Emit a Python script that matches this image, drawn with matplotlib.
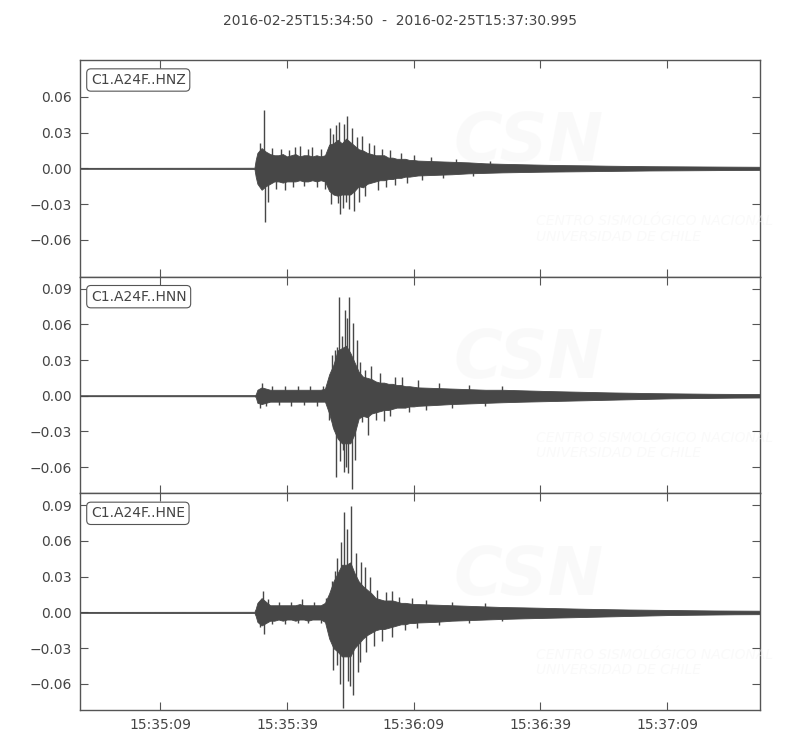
import matplotlib
matplotlib.use("Agg")
import matplotlib.pyplot as plt
from matplotlib.ticker import FuncFormatter, FixedLocator

# start time 2016-02-25T15:34:50, x in seconds from start
start_h, start_m, start_s = 15, 34, 50
t_end = 160.995
title = "2016-02-25T15:34:50  -  2016-02-25T15:37:30.995"
channels = ["C1.A24F..HNZ", "C1.A24F..HNN", "C1.A24F..HNE"]
x_ticks = [19, 49, 79, 109, 139]

# envelope sample times (s)
t_env = [0, 41.3, 41.6, 42, 43, 44, 45, 46, 47, 48, 49, 50, 51, 52, 53, 54, 55, 56, 57,
         58, 59, 60, 61, 62, 63, 64, 65, 66, 67, 68, 69, 70, 71, 72, 73, 74, 75, 76, 77,
         78, 79, 80, 84, 88, 92, 96, 100, 105, 110, 115, 120, 125, 130, 135, 140, 145,
         150, 155, 161]

# HNZ envelope (core of the trace)
hnz_hi = [0.0004, 0.0005, 0.007, 0.013, 0.017, 0.014, 0.012, 0.011, 0.011, 0.012, 0.010,
          0.011, 0.012, 0.010, 0.011, 0.011, 0.010, 0.011, 0.010, 0.011, 0.020, 0.021,
          0.024, 0.021, 0.025, 0.022, 0.019, 0.016, 0.015, 0.013, 0.012, 0.011, 0.011,
          0.011, 0.009, 0.009, 0.008, 0.008, 0.008, 0.007, 0.007, 0.0065, 0.006, 0.0055,
          0.005, 0.0042, 0.0038, 0.0034, 0.003, 0.0027, 0.0025, 0.0022, 0.002, 0.0018,
          0.0017, 0.0016, 0.0015, 0.0014, 0.0013]
hnz_lo = [-0.0004, -0.0005, -0.007, -0.013, -0.018, -0.015, -0.013, -0.011, -0.011,
          -0.012, -0.011, -0.011, -0.011, -0.010, -0.011, -0.011, -0.010, -0.011, -0.010,
          -0.011, -0.019, -0.022, -0.023, -0.022, -0.022, -0.022, -0.019, -0.015, -0.016,
          -0.013, -0.012, -0.011, -0.010, -0.010, -0.009, -0.009, -0.008, -0.008, -0.007,
          -0.007, -0.0065, -0.006, -0.0055, -0.005, -0.0042, -0.0038, -0.0034, -0.0031,
          -0.0028, -0.0026, -0.0024, -0.0022, -0.002, -0.0018, -0.0017, -0.0016, -0.0015,
          -0.0014, -0.0013]
hnz_spike_t = [42.5, 43.6, 43.8, 44.5, 45.5, 46.5, 47.5, 48.5, 49.5, 50.5, 51.0, 52.0,
               53.0, 54.0, 55.0, 56.0, 57.0, 58.0, 59.2, 59.4, 60.0, 60.5, 61.0, 61.3,
               61.5, 62.2, 62.4, 63.0, 63.3, 63.6, 64.3, 64.9, 65.5, 66.0, 66.7, 67.5,
               68.5, 69.5, 70.5, 71.5, 72.5, 73.5, 74.5, 76.0, 77.5, 79.0, 81.0, 83.0,
               86.0, 89.0, 93.0, 97.0]
hnz_spike_a = [0.021, 0.049, -0.045, -0.028, 0.017, -0.017, 0.016, -0.018, 0.015, -0.016,
               0.018, 0.019, -0.015, 0.016, 0.018, -0.016, 0.016, -0.017, 0.034, -0.030,
               0.029, 0.036, -0.029, 0.039, -0.038, -0.033, 0.037, -0.028, 0.044, -0.034,
               0.034, -0.036, 0.026, -0.028, 0.027, -0.023, 0.021, 0.020, -0.018, 0.016,
               -0.016, 0.015, -0.014, 0.013, -0.012, 0.011, -0.010, 0.0095, -0.008, 0.0075,
               -0.0065, 0.006]

# HNN envelope
hnn_hi = [0.0004, 0.0005, 0.001, 0.005, 0.007, 0.006, 0.005, 0.005, 0.005, 0.005, 0.005,
          0.005, 0.005, 0.005, 0.005, 0.005, 0.005, 0.005, 0.005, 0.006, 0.018, 0.026,
          0.038, 0.040, 0.042, 0.036, 0.028, 0.020, 0.016, 0.015, 0.014, 0.012, 0.011,
          0.011, 0.010, 0.010, 0.009, 0.009, 0.008, 0.008, 0.0075, 0.007, 0.0065, 0.006,
          0.0055, 0.005, 0.005, 0.0045, 0.004, 0.0036, 0.0032, 0.0028, 0.0025, 0.0022,
          0.002, 0.0018, 0.0016, 0.0015, 0.0014]
hnn_lo = [-0.0004, -0.0005, -0.001, -0.006, -0.007, -0.006, -0.005, -0.005, -0.005,
          -0.005, -0.005, -0.005, -0.005, -0.005, -0.005, -0.005, -0.005, -0.005, -0.005,
          -0.005, -0.015, -0.028, -0.036, -0.040, -0.040, -0.040, -0.032, -0.019, -0.017,
          -0.018, -0.015, -0.014, -0.013, -0.012, -0.012, -0.011, -0.010, -0.010, -0.010,
          -0.009, -0.009, -0.0085, -0.0078, -0.007, -0.0065, -0.006, -0.0055, -0.005,
          -0.0046, -0.0042, -0.0038, -0.0034, -0.003, -0.0026, -0.0022, -0.002, -0.0018,
          -0.0016, -0.0015]
hnn_spike_t = [42.6, 43.0, 44.0, 45.5, 47.0, 48.5, 50.0, 51.5, 53.0, 54.5, 56.0, 57.5,
               59.0, 59.6, 60.0, 60.3, 60.6, 60.8, 61.3, 61.5, 62.0, 62.2, 62.5, 62.7,
               63.0, 63.3, 63.5, 63.8, 64.3, 64.7, 65.1, 65.5, 66.3, 66.8, 67.5, 68.3,
               69.0, 70.0, 71.0, 72.0, 73.4, 74.6, 76.2, 78.0, 80.0, 82.0, 85.0, 88.0,
               92.0, 96.0, 100.0]
hnn_spike_a = [-0.010, 0.011, -0.009, 0.008, -0.008, 0.008, -0.009, 0.008, -0.008, 0.008,
               -0.009, 0.008, -0.020, 0.034, -0.026, 0.038, -0.068, 0.041, 0.083, -0.055,
               0.050, -0.046, -0.064, 0.072, -0.060, 0.065, -0.065, 0.083, -0.078, 0.061,
               -0.054, 0.047, 0.028, -0.022, 0.022, -0.033, 0.025, -0.020, 0.019, -0.021,
               -0.017, 0.016, 0.016, -0.014, 0.013, -0.012, 0.011, -0.010, 0.009, -0.009,
               0.008]

# HNE envelope
hne_hi = [0.0004, 0.0005, 0.003, 0.008, 0.012, 0.009, 0.006, 0.006, 0.006, 0.006, 0.006,
          0.006, 0.006, 0.007, 0.006, 0.006, 0.006, 0.006, 0.006, 0.008, 0.016, 0.026,
          0.033, 0.040, 0.040, 0.042, 0.033, 0.026, 0.022, 0.019, 0.016, 0.012, 0.011,
          0.010, 0.010, 0.010, 0.009, 0.008, 0.008, 0.0075, 0.007, 0.007, 0.0065, 0.006,
          0.0055, 0.005, 0.0045, 0.0042, 0.0038, 0.0034, 0.003, 0.0027, 0.0024, 0.0022,
          0.002, 0.0018, 0.0016, 0.0015, 0.0014]
hne_lo = [-0.0004, -0.0005, -0.003, -0.008, -0.011, -0.009, -0.007, -0.007, -0.006,
          -0.007, -0.006, -0.006, -0.007, -0.006, -0.006, -0.007, -0.006, -0.006, -0.006,
          -0.008, -0.022, -0.030, -0.033, -0.037, -0.037, -0.037, -0.030, -0.026, -0.022,
          -0.019, -0.017, -0.015, -0.014, -0.014, -0.013, -0.012, -0.011, -0.010, -0.010,
          -0.009, -0.009, -0.0085, -0.008, -0.007, -0.0065, -0.006, -0.0055, -0.005,
          -0.0046, -0.0042, -0.0038, -0.0034, -0.003, -0.0026, -0.0022, -0.002, -0.0018,
          -0.0016, -0.0015]
hne_spike_t = [42.6, 43.4, 43.6, 44.5, 45.5, 47.0, 48.5, 50.0, 51.5, 52.5, 54.0, 55.5,
               57.0, 58.3, 59.6, 60.0, 60.4, 60.8, 60.9, 61.5, 61.8, 62.3, 62.6, 63.2,
               63.5, 64.0, 64.2, 64.7, 65.3, 65.8, 66.3, 66.5, 67.5, 67.6, 68.7, 69.5,
               70.3, 71.5, 72.5, 73.8, 73.9, 75.5, 77.0, 78.5, 79.7, 82.0, 85.0, 88.0,
               92.0, 96.0, 100.0]
hne_spike_a = [-0.012, 0.018, -0.0185, 0.011, -0.010, 0.009, -0.010, 0.009, -0.009, 0.011,
               -0.009, 0.009, -0.009, 0.012, 0.026, -0.048, 0.035, 0.046, -0.044, -0.060,
               0.059, -0.080, 0.084, 0.070, -0.058, -0.062, 0.089, -0.069, 0.050, -0.050,
               -0.042, 0.042, 0.038, -0.033, 0.030, -0.028, 0.019, -0.024, 0.017, 0.018,
               -0.021, 0.013, -0.015, 0.012, -0.013, 0.010, -0.011, 0.009, -0.009, 0.008,
               -0.007]

his = [hnz_hi, hnn_hi, hne_hi]
los = [hnz_lo, hnn_lo, hne_lo]
spike_ts = [hnz_spike_t, hnn_spike_t, hne_spike_t]
spike_as = [hnz_spike_a, hnn_spike_a, hne_spike_a]
ylims = [(-0.091, 0.091), (-0.082, 0.100), (-0.082, 0.100)]
yticks = [[-0.06, -0.03, 0.0, 0.03, 0.06],
          [-0.06, -0.03, 0.0, 0.03, 0.06, 0.09],
          [-0.06, -0.03, 0.0, 0.03, 0.06, 0.09]]

wave_col = "#474747"
text_col = "#444444"


def fmt_time(x, pos):
    total = start_h * 3600 + start_m * 60 + start_s + int(round(x))
    return "%02d:%02d:%02d" % (total // 3600, (total // 60) % 60, total % 60)


fig = plt.figure(figsize=(8, 7.5), dpi=100)
fig.text(0.5, 0.972, title, ha="center", va="center", fontsize=10, color=text_col)

left, width = 0.1, 0.85
bottom, top = 1 - 710 / 750, 1 - 60 / 750
h = (top - bottom) / 3

for i in range(3):
    ax = fig.add_axes([left, top - (i + 1) * h, width, h])
    ax.fill_between(t_env, los[i], his[i], color=wave_col, linewidth=0.6, zorder=2)
    ax.vlines(spike_ts[i], 0, spike_as[i], color=wave_col, linewidth=1.0, zorder=2)
    ax.set_xlim(0, t_end)
    ax.set_ylim(*ylims[i])
    ax.yaxis.set_major_locator(FixedLocator(yticks[i]))
    ax.yaxis.set_major_formatter(FuncFormatter(lambda v, p: ("%.2f" % v).replace("-", "\u2212")))
    ax.xaxis.set_major_locator(FixedLocator(x_ticks))
    ax.xaxis.set_major_formatter(FuncFormatter(fmt_time))
    ax.tick_params(direction="in", length=6, width=0.8, color="#555555",
                   top=True, right=True, labelsize=10, labelcolor=text_col, pad=6)
    if i < 2:
        ax.tick_params(labelbottom=False)
    for sp in ax.spines.values():
        sp.set_color("#555555")
        sp.set_linewidth(1.0)
    # faint watermark
    ax.text(0.66, 0.62, "CSN", transform=ax.transAxes, fontsize=48, fontweight="bold",
            style="italic", color="#f5f5f5", alpha=0.5, ha="center", va="center", zorder=3)
    ax.text(0.67, 0.22, "CENTRO SISMOLÓGICO NACIONAL\nUNIVERSIDAD DE CHILE",
            transform=ax.transAxes, fontsize=10, style="italic", color="#f5f5f5",
            alpha=0.5, ha="left", va="center", zorder=3, linespacing=1.1)
    ax.text(0.016, 0.94, channels[i], transform=ax.transAxes, ha="left", va="top",
            fontsize=10, color=text_col, zorder=4,
            bbox=dict(boxstyle="round,pad=0.3", fc="white", ec="#555555", lw=0.8))

fig.savefig("out.png", dpi=100)
